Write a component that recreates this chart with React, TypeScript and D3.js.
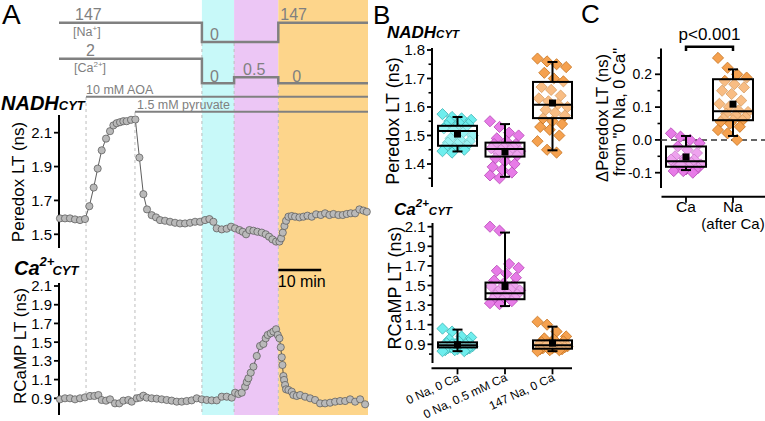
import React from 'react';
import * as d3 from 'd3';

const W = 765;
const H = 421;
const FONT = "'Liberation Sans', Arial, sans-serif";

// ---------- Panel A: protocol (time in minutes) ----------
const periodNames = ['0 Na, 0 Ca', '0 Na, 0.5 mM Ca', '147 Na, 0 Ca'];
const periodStart = [33.3, 40.8, 51.1];
const periodEnd = [40.8, 51.1, 72];
const periodShade = ['#c8f9f9', '#ecc6f5', '#fdd58b'];
const naTimes = [0, 33.3, 51.1, 72];
const naValues = [147, 0, 147, 147];
const caTimes = [0, 33.3, 40.8, 51.1, 72];
const caValues = [2, 0, 0.5, 0, 0];
const aoaStart = 6.3;
const pyruvateStart = 17.7;
const traceEnd = 72;

// Peredox trace
const peredoxT = [0.23, 1.4, 2.56, 3.73, 4.9, 6.06, 7.07, 8.08, 9.01, 9.95, 10.96, 11.89, 12.67, 13.44, 14.22, 15.0, 15.77, 16.78, 17.79,
  18.73, 19.66, 20.51, 21.6, 22.61, 23.54, 24.71, 25.87, 27.04, 28.2, 29.37, 30.54, 31.7, 32.87, 34.03, 35.04, 35.98,
  36.75, 37.92, 39.08, 40.09, 41.03, 42.04, 42.81, 43.59, 44.37, 45.3, 46.23, 47.24, 48.17, 48.95, 49.73, 50.58, 51.36,
  51.75, 52.14, 52.53, 52.91, 53.46, 54.23, 55.01, 56.02, 56.95, 57.89, 58.9, 59.91, 61.0, 62.0, 63.01, 63.95, 65.11, 66.12, 67.05, 67.99, 69.0, 70.0, 70.94, 71.72];
const peredoxV = [1.594, 1.594, 1.594, 1.588, 1.584, 1.59, 1.666, 1.776, 1.888, 1.996, 2.065, 2.109, 2.143, 2.156, 2.162, 2.168, 2.168, 2.176, 2.178,
  1.953, 1.737, 1.647, 1.613, 1.6, 1.584, 1.58, 1.574, 1.568, 1.564, 1.564, 1.568, 1.574, 1.574, 1.584, 1.59, 1.574,
  1.535, 1.529, 1.533, 1.545, 1.535, 1.525, 1.515, 1.5, 1.525, 1.521, 1.515, 1.51, 1.5, 1.486, 1.47, 1.457, 1.457,
  1.476, 1.51, 1.549, 1.58, 1.604, 1.608, 1.604, 1.6, 1.604, 1.61, 1.604, 1.618, 1.614, 1.624, 1.614, 1.62, 1.614, 1.614, 1.62, 1.624, 1.624, 1.647, 1.64, 1.633];

// RCaMP trace
const rcampT = [0.23, 1.4, 2.56, 3.73, 4.9, 6.06, 7.23, 8.24, 9.17, 9.95, 10.96, 11.89, 13.05, 14.06, 15.0, 16.16, 16.94, 18.11, 18.88, 19.66,
  20.44, 21.6, 22.77, 23.93, 25.1, 26.26, 27.43, 28.59, 29.76, 30.92, 32.09, 33.26, 34.42, 35.59, 36.75, 37.92, 39.08, 40.25, 41.03, 41.8,
  42.58, 43.36, 43.75, 44.13, 44.68, 45.3, 46.08, 46.85, 47.63, 48.17, 48.64, 49.34, 49.96, 50.58, 50.97, 51.36, 51.67, 51.9, 52.06, 52.29,
  52.45, 52.68, 52.91, 53.46, 54.23, 54.62, 55.4, 56.18, 57.34, 58.51, 59.67, 60.84, 62.0, 63.17, 64.34, 65.5, 66.67, 67.83, 69.0, 70.16, 71.33];
const rcampV = [0.889, 0.9, 0.9, 0.889, 0.9, 0.91, 0.925, 0.925, 0.935, 0.882, 0.875, 0.889, 0.846, 0.846, 0.875, 0.882, 0.864, 0.9, 0.907, 0.928,
  0.907, 0.9, 0.896, 0.889, 0.882, 0.875, 0.864, 0.864, 0.871, 0.878, 0.9, 0.889, 0.882, 0.878, 0.878, 0.917, 0.917, 0.907, 0.96, 0.946,
  0.96, 1.024, 1.074, 1.114, 1.174, 1.238, 1.352, 1.459, 1.481, 1.541, 1.577, 1.595, 1.613, 1.638, 1.577, 1.541, 1.445, 1.338, 1.256, 1.138,
  1.096, 1.042, 0.996, 0.989, 0.971, 0.935, 0.925, 0.935, 0.917, 0.9, 0.882, 0.846, 0.846, 0.853, 0.864, 0.871, 0.871, 0.889, 0.864, 0.889, 0.836];

const peredoxTicksA = [1.5, 1.7, 1.9, 2.1];
const rcampTicksA = [0.9, 1.1, 1.3, 1.5, 1.7, 1.9, 2.1];

// ---------- Panel B ----------
// stats: [whiskerLow, q1, median, q3, whiskerHigh, mean]
const bPeredoxStats = [
  [1.444, 1.464, 1.516, 1.534, 1.565, 1.505],
  [1.355, 1.426, 1.453, 1.475, 1.54, 1.442],
  [1.448, 1.561, 1.608, 1.688, 1.758, 1.614],
];
const bPeredoxPts = [
  [1.575, 1.565, 1.56, 1.555, 1.55, 1.545, 1.54, 1.535, 1.53, 1.53, 1.525, 1.52, 1.51, 1.5, 1.49, 1.485, 1.48, 1.475, 1.47, 1.465, 1.46, 1.455, 1.45, 1.445, 1.44],
  [1.55, 1.53, 1.51, 1.5, 1.49, 1.48, 1.47, 1.47, 1.46, 1.46, 1.455, 1.45, 1.45, 1.445, 1.44, 1.435, 1.43, 1.42, 1.41, 1.4, 1.39, 1.38, 1.37, 1.36, 1.35],
  [1.77, 1.76, 1.75, 1.74, 1.72, 1.7, 1.69, 1.67, 1.66, 1.64, 1.63, 1.62, 1.61, 1.6, 1.59, 1.58, 1.57, 1.56, 1.55, 1.54, 1.53, 1.52, 1.5, 1.48, 1.45, 1.44],
];
const bRcampStats = [
  [0.83, 0.868, 0.89, 0.92, 1.05, 0.895],
  [1.29, 1.36, 1.42, 1.53, 2.04, 1.49],
  [0.83, 0.855, 0.89, 0.94, 1.08, 0.912],
];
const bRcampPts = [
  [1.06, 1.03, 0.98, 0.97, 0.95, 0.93, 0.92, 0.91, 0.9, 0.9, 0.89, 0.89, 0.88, 0.88, 0.87, 0.87, 0.86, 0.86, 0.85, 0.85, 0.84, 0.84, 0.83, 0.83, 0.9],
  [2.1, 2.06, 1.72, 1.68, 1.65, 1.62, 1.58, 1.55, 1.52, 1.5, 1.49, 1.47, 1.46, 1.45, 1.44, 1.42, 1.41, 1.4, 1.39, 1.38, 1.36, 1.35, 1.34, 1.32, 1.31],
  [1.13, 1.1, 1.03, 0.98, 0.96, 0.95, 0.93, 0.92, 0.91, 0.9, 0.9, 0.89, 0.89, 0.88, 0.88, 0.87, 0.87, 0.86, 0.86, 0.85, 0.85, 0.84, 0.84, 0.83, 0.9],
];
const bPeredoxTicks = [1.4, 1.5, 1.6, 1.7, 1.8];
const bRcampTicks = [0.9, 1.1, 1.3, 1.5, 1.7, 1.9, 2.1];

// ---------- Panel C ----------
const cCategories = ['Ca', 'Na'];
const cStats = [
  [-0.092, -0.082, -0.065, -0.02, 0.012, -0.052],
  [0.012, 0.06, 0.087, 0.185, 0.215, 0.109],
];
const cPts = [
  [0.02, 0.01, 0.0, -0.01, -0.02, -0.03, -0.04, -0.05, -0.055, -0.06, -0.065, -0.07, -0.07, -0.075, -0.08, -0.08, -0.085, -0.085, -0.09, -0.09, -0.095, -0.095, -0.1, -0.06, -0.075],
  [0.25, 0.22, 0.2, 0.19, 0.18, 0.17, 0.16, 0.15, 0.14, 0.12, 0.11, 0.1, 0.09, 0.085, 0.08, 0.075, 0.07, 0.065, 0.06, 0.06, 0.055, 0.05, 0.04, 0.03, 0.02, 0.0],
];
const cTicks = [-0.1, 0.0, 0.1, 0.2];
const pLabel = 'p<0.001';

const dotFill = ['#6eeeee', '#e77be7', '#f5a14f'];
const dotStroke = ['#3fb3b3', '#b445b4', '#c57220'];
const cColorIdx = [1, 2];

const GRAY = '#808080';

function jitter(i: number) {
  return ((((i * 7919) % 23) / 22) - 0.5) * 2;
}

function fmt1(v: number) {
  const s = Math.abs(v) < 1e-9 ? 0 : v;
  return s.toFixed(1);
}

function Diamond({ x, y, r, fill, stroke }: any) {
  return <path d={`M${x},${y - r}L${x + r},${y}L${x},${y + r}L${x - r},${y}Z`} fill={fill} stroke={stroke} strokeWidth={0.8} />;
}

function YAxis({ x, scale, y0, y1, major, minor, fmt, fontSize, tickLen = 5, gap = 2 }: any) {
  return (
    <g>
      <line x1={x} x2={x} y1={y0} y2={y1} stroke="#000" strokeWidth={2} />
      {minor.map((v: number) => (
        <line key={'m' + v} x1={x - 3.5} x2={x} y1={scale(v)} y2={scale(v)} stroke="#000" strokeWidth={1.6} />
      ))}
      {major.map((v: number) => (
        <g key={'M' + v}>
          <line x1={x - tickLen} x2={x} y1={scale(v)} y2={scale(v)} stroke="#000" strokeWidth={1.8} />
          <text x={x - tickLen - gap} y={scale(v)} dy="0.36em" textAnchor="end" fontSize={fontSize}>{fmt(v)}</text>
        </g>
      ))}
    </g>
  );
}

function BoxGroup({ cx, halfW, stats, pts, scale, ci, spread }: any) {
  const [wl, q1, med, q3, wh, mean] = stats;
  return (
    <g>
      {pts.map((v: number, i: number) => (
        <Diamond key={i} x={cx + jitter(i) * spread} y={scale(v)} r={5.6} fill={dotFill[ci]} stroke={dotStroke[ci]} />
      ))}
      <rect x={cx - halfW} y={scale(q3)} width={halfW * 2} height={scale(q1) - scale(q3)} fill="#fff" fillOpacity={0.3} stroke="#000" strokeWidth={2} />
      <line x1={cx} x2={cx} y1={scale(wh)} y2={scale(q3)} stroke="#000" strokeWidth={2} />
      <line x1={cx} x2={cx} y1={scale(q1)} y2={scale(wl)} stroke="#000" strokeWidth={2} />
      <line x1={cx - 5} x2={cx + 5} y1={scale(wh)} y2={scale(wh)} stroke="#000" strokeWidth={2} />
      <line x1={cx - 5} x2={cx + 5} y1={scale(wl)} y2={scale(wl)} stroke="#000" strokeWidth={2} />
      <line x1={cx - halfW} x2={cx + halfW} y1={scale(med)} y2={scale(med)} stroke="#000" strokeWidth={2} />
      <rect x={cx - 3.5} y={scale(mean) - 3.5} width={7} height={7} fill="#000" />
    </g>
  );
}

export default function App() {
  // ---- Panel A scales ----
  const xT = d3.scaleLinear().domain([0, traceEnd]).range([59, 368]);
  const yNa = d3.scaleLinear().domain([0, 147]).range([42, 22.7]);
  const yCa = d3.scaleLinear().domain([0, 2]).range([83.3, 58.7]);
  const yPer = d3.scaleLinear().domain([1.5, 2.1]).range([234.3, 132.7]);
  const yRc = d3.scaleLinear().domain([0.9, 2.1]).range([398.3, 286]);

  const step = d3.line<[number, number]>().curve(d3.curveStepAfter);
  const naPath = step(naTimes.map((t, i) => [xT(t), yNa(naValues[i])]));
  const caPath = step(caTimes.map((t, i) => [xT(t), yCa(caValues[i])]));
  const lineGen = d3.line<[number, number]>();
  const perPts: [number, number][] = peredoxT.map((t, i) => [xT(t), yPer(peredoxV[i])]);
  const rcPts: [number, number][] = rcampT.map((t, i) => [xT(t), yRc(rcampV[i])]);

  // ---- Panel B scales ----
  const xB = d3.scalePoint<string>().domain(periodNames).range([457.5, 552.5]);
  const yB1 = d3.scaleLinear().domain([1.4, 1.8]).range([164, 50]);
  const yB2 = d3.scaleLinear().domain([0.9, 2.1]).range([344.3, 226.7]);

  // ---- Panel C scales ----
  const xC = d3.scalePoint<string>().domain(cCategories).range([686, 733]);
  const yC = d3.scaleLinear().domain([-0.1, 0.2]).range([172.7, 74.3]);

  const bPerMinor = d3.range(1.35, 1.81, 0.05).filter((v) => !bPeredoxTicks.some((t) => Math.abs(t - v) < 1e-6));
  const bRcMinor = d3.range(0.8, 2.11, 0.1).filter((v) => !bRcampTicks.some((t) => Math.abs(t - v) < 1e-6));
  const cMinor = [-0.05, 0.05, 0.15, 0.25];

  const bLabelY = 368.3;

  return (
    <svg width={W} height={H} style={{ position: 'absolute', left: 0, top: 0, fontFamily: FONT }} fill="#000">
      <rect width={W} height={H} fill="#fff" />
      {/* ===== Panel A ===== */}
      {periodStart.map((s, i) => (
        <rect key={i} x={xT(s)} y={0} width={xT(periodEnd[i]) - xT(s)} height={415} fill={periodShade[i]} />
      ))}
      {periodStart.map((s, i) => (
        <line key={'d' + i} x1={xT(s)} x2={xT(s)} y1={i === 2 ? 84 : 43} y2={415} stroke="#bdbdbd" strokeWidth={1} strokeDasharray="3,3" />
      ))}
      {[aoaStart, pyruvateStart].map((t, i) => (
        <line key={'e' + i} x1={xT(t)} x2={xT(t)} y1={i === 0 ? 97 : 112} y2={397} stroke="#bdbdbd" strokeWidth={1} strokeDasharray="3,3" />
      ))}
      <path d={naPath || ''} fill="none" stroke={GRAY} strokeWidth={2.5} />
      <path d={caPath || ''} fill="none" stroke={GRAY} strokeWidth={2.5} />
      <line x1={xT(aoaStart)} x2={xT(traceEnd)} y1={96.7} y2={96.7} stroke={GRAY} strokeWidth={2} />
      <line x1={xT(pyruvateStart)} x2={xT(traceEnd)} y1={111.7} y2={111.7} stroke={GRAY} strokeWidth={2} />

      <g fill={GRAY}>
        <text x={75} y={19.5} fontSize={16}>{naValues[0]}</text>
        <text x={73} y={36} fontSize={12.5}>[Na<tspan dy={-5} fontSize={8}>+</tspan><tspan dy={5}>]</tspan></text>
        <text x={xT(33.3) + 8} y={39.5} fontSize={16}>{naValues[1]}</text>
        <text x={xT(51.1) + 2} y={19.5} fontSize={16}>{naValues[2]}</text>
        <text x={86} y={56} fontSize={16}>{caValues[0]}</text>
        <text x={74} y={72} fontSize={12.5}>[Ca<tspan dy={-5} fontSize={8}>2+</tspan><tspan dy={5}>]</tspan></text>
        <text x={xT(33.3) + 8} y={82} fontSize={16}>{caValues[1]}</text>
        <text x={xT(40.8) + 9} y={75} fontSize={16}>{caValues[2]}</text>
        <text x={xT(51.1) + 14} y={82} fontSize={16}>{caValues[3]}</text>
        <text x={xT(aoaStart)} y={94} fontSize={12.5}>10 mM AOA</text>
        <text x={xT(pyruvateStart) + 2} y={108.5} fontSize={12.5}>1.5 mM pyruvate</text>
      </g>

      <text x={2} y={24} fontSize={28}>A</text>
      <text x={1} y={110} fontSize={20} fontWeight="bold" fontStyle="italic">NADH<tspan fontSize={13}>CYT</tspan></text>
      <text x={14} y={275} fontSize={20} fontWeight="bold" fontStyle="italic">Ca<tspan dy={-9} fontSize={13}>2+</tspan><tspan dy={9} dx={-2} fontSize={13}>CYT</tspan></text>

      <YAxis x={59} scale={yPer} y0={115} y1={248} major={peredoxTicksA} minor={[]} fmt={fmt1} fontSize={15} />
      <text transform="translate(24,182) rotate(-90)" textAnchor="middle" fontSize={17}>Peredox LT (ns)</text>
      <path d={lineGen(perPts) || ''} fill="none" stroke="#333" strokeWidth={0.8} />
      {perPts.map((p, i) => (
        <circle key={i} cx={p[0]} cy={p[1]} r={3.6} fill="#b9b9b9" stroke="#555" strokeWidth={0.7} />
      ))}

      <YAxis x={59} scale={yRc} y0={283} y1={415} major={rcampTicksA} minor={[]} fmt={fmt1} fontSize={15} />
      <text transform="translate(26,346) rotate(-90)" textAnchor="middle" fontSize={17}>RCaMP LT (ns)</text>
      <path d={lineGen(rcPts) || ''} fill="none" stroke="#333" strokeWidth={0.8} />
      {rcPts.map((p, i) => (
        <circle key={i} cx={p[0]} cy={p[1]} r={3.6} fill="#b9b9b9" stroke="#555" strokeWidth={0.7} />
      ))}

      {/* scale bar */}
      <line x1={xT(51.1)} x2={xT(61.1)} y1={270} y2={270} stroke="#000" strokeWidth={2.5} />
      <text x={(xT(51.1) + xT(61.1)) / 2 + 2} y={287} textAnchor="middle" fontSize={16}>10 min</text>

      {/* ===== Panel B ===== */}
      <text x={373} y={24} fontSize={26}>B</text>
      <text x={387} y={38} fontSize={17} fontWeight="bold" fontStyle="italic">NADH<tspan fontSize={11.5}>CYT</tspan></text>
      <YAxis x={432} scale={yB1} y0={48} y1={187} major={bPeredoxTicks} minor={bPerMinor} fmt={fmt1} fontSize={15} />
      <text transform="translate(399,121) rotate(-90)" textAnchor="middle" fontSize={18}>Peredox LT (ns)</text>
      {periodNames.map((n, i) => (
        <BoxGroup key={n} cx={xB(n)} halfW={19.5} stats={bPeredoxStats[i]} pts={bPeredoxPts[i]} scale={yB1} ci={i} spread={15} />
      ))}

      <text x={394} y={215} fontSize={17} fontWeight="bold" fontStyle="italic">Ca<tspan dy={-8} fontSize={11.5}>2+</tspan><tspan dy={8} fontSize={11.5}>CYT</tspan></text>
      <YAxis x={432.5} scale={yB2} y0={223} y1={363} major={bRcampTicks} minor={bRcMinor} fmt={fmt1} fontSize={15} />
      <text transform="translate(401,288) rotate(-90)" textAnchor="middle" fontSize={18}>RCaMP LT (ns)</text>
      {periodNames.map((n, i) => (
        <BoxGroup key={n} cx={xB(n)} halfW={19.5} stats={bRcampStats[i]} pts={bRcampPts[i]} scale={yB2} ci={i} spread={15} />
      ))}
      <line x1={431.5} x2={572} y1={bLabelY} y2={bLabelY} stroke="#000" strokeWidth={2} />
      {periodNames.map((n) => (
        <g key={n}>
          <line x1={xB(n)} x2={xB(n)} y1={bLabelY} y2={bLabelY + 6} stroke="#000" strokeWidth={1.8} />
          <text transform={`translate(${(xB(n) as number) + 3},${bLabelY + 12}) rotate(-25)`} textAnchor="end" fontSize={12}>{n}</text>
        </g>
      ))}

      {/* ===== Panel C ===== */}
      <text x={581} y={23} fontSize={26}>C</text>
      <YAxis x={661} scale={yC} y0={48.5} y1={188} major={cTicks} minor={cMinor} fmt={fmt1} fontSize={14} tickLen={6} gap={3} />
      <line x1={661} x2={765} y1={yC(0)} y2={yC(0)} stroke="#333" strokeWidth={1.5} strokeDasharray="6,4" />
      <text transform="translate(608,118) rotate(-90)" textAnchor="middle" fontSize={16.5}>ΔPeredox LT (ns)</text>
      <text transform="translate(625,112) rotate(-90)" textAnchor="middle" fontSize={16.5}>from "0 Na, 0 Ca"</text>
      {cCategories.map((c, i) => (
        <BoxGroup key={c} cx={xC(c)} halfW={20} stats={cStats[i]} pts={cPts[i]} scale={yC} ci={cColorIdx[i]} spread={15} />
      ))}
      <line x1={661.5} x2={765} y1={196.7} y2={196.7} stroke="#000" strokeWidth={2} />
      {cCategories.map((c) => (
        <line key={c} x1={xC(c)} x2={xC(c)} y1={196.7} y2={202.7} stroke="#000" strokeWidth={1.8} />
      ))}
      <text x={xC('Ca')} y={212} textAnchor="middle" fontSize={15.5}>Ca</text>
      <text x={xC('Na')} y={212} textAnchor="middle" fontSize={15.5}>Na</text>
      <text x={xC('Na')} y={229} textAnchor="middle" fontSize={15}>(after Ca)</text>
      <path d={`M${xC('Ca')},51V46.7H${xC('Na')}V51`} fill="none" stroke="#000" strokeWidth={2.5} />
      <text x={((xC('Ca') as number) + (xC('Na') as number)) / 2} y={40} textAnchor="middle" fontSize={17}>{pLabel}</text>
    </svg>
  );
}
